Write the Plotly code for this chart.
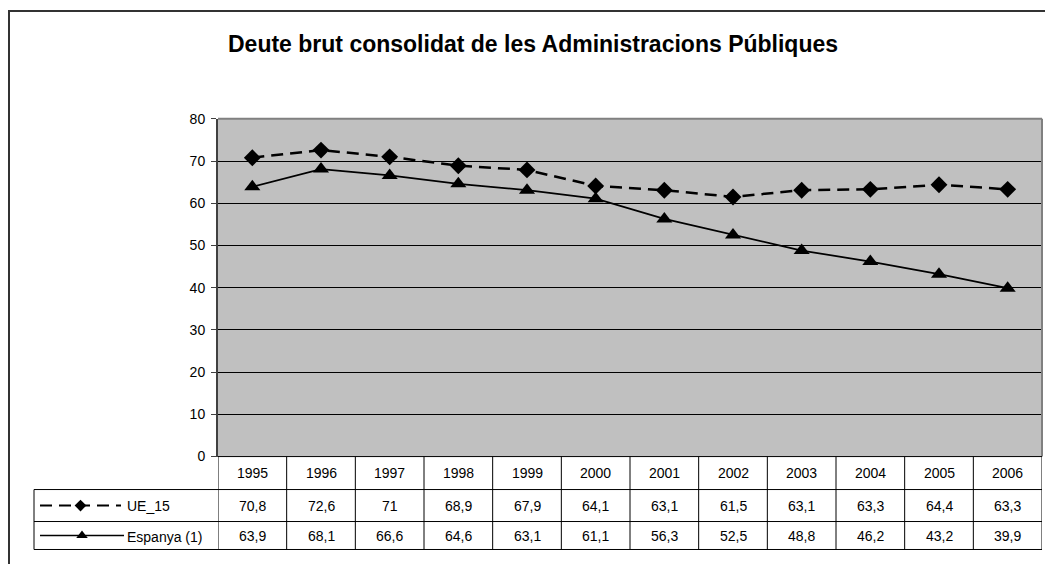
import plotly.graph_objects as go

years = ["1995", "1996", "1997", "1998", "1999", "2000", "2001", "2002", "2003", "2004", "2005", "2006"]
ue15 = [70.8, 72.6, 71, 68.9, 67.9, 64.1, 63.1, 61.5, 63.1, 63.3, 64.4, 63.3]
espanya = [63.9, 68.1, 66.6, 64.6, 63.1, 61.1, 56.3, 52.5, 48.8, 46.2, 43.2, 39.9]
series_names = ["UE_15", "Espanya (1)"]
title_text = "Deute brut consolidat de les Administracions Públiques"
y_ticks = [0, 10, 20, 30, 40, 50, 60, 70, 80]

# page is 1053x572; body keeps its default 8px margin, so the figure is 1037x556
OFF = 8
W, H = 1053 - 2 * OFF, 572 - 2 * OFF
# vertical correction observed in the capture
VS, VB = 0.972, 7.3
def px(x): return (x - OFF) / W
def py(y):
    yi = (y - VB) / VS
    return 1 - (yi - OFF) / H

PL, PR, PT, PB = 218, 1042, 118, 456
ROW_YEAR_B, ROW1_B, ROW2_B = 489, 521, 549
LEG_L = 34

def fmt(v):
    return ("%g" % v).replace(".", ",")

fig = go.Figure()

UE_DASH = "12px,7px"
fig.add_trace(go.Scatter(
    x=years, y=ue15, mode="lines+markers", name=series_names[0],
    line=dict(color="black", width=2.5, dash=UE_DASH),
    marker=dict(symbol="diamond", size=13, color="black"),
    xaxis="x", yaxis="y", showlegend=False))
fig.add_trace(go.Scatter(
    x=years, y=espanya, mode="lines+markers", name=series_names[1],
    line=dict(color="black", width=1.75),
    marker=dict(symbol="triangle-up", size=14, color="black"),
    xaxis="x", yaxis="y", showlegend=False))

# legend samples in the table's legend column
fig.add_trace(go.Scatter(
    x=[0, 0.5, 1], y=[0.5, 0.5, 0.5], mode="lines", xaxis="x2", yaxis="y2",
    line=dict(color="black", width=2, dash=UE_DASH), showlegend=False, hoverinfo="skip"))
fig.add_trace(go.Scatter(
    x=[0.5], y=[0.5], mode="markers", xaxis="x2", yaxis="y2",
    marker=dict(symbol="diamond", size=9, color="black"), showlegend=False, hoverinfo="skip"))
fig.add_trace(go.Scatter(
    x=[0, 0.5, 1], y=[0.5, 0.5, 0.5], mode="lines", xaxis="x3", yaxis="y3",
    line=dict(color="black", width=1.5), showlegend=False, hoverinfo="skip"))
fig.add_trace(go.Scatter(
    x=[0.5], y=[0.5], mode="markers", xaxis="x3", yaxis="y3",
    marker=dict(symbol="triangle-up", size=10, color="black"), showlegend=False, hoverinfo="skip"))

shapes = []
# gray plot area background (below gridlines)
shapes.append(dict(type="rect", xref="x domain", yref="y domain", x0=0, x1=1, y0=0, y1=1,
                   fillcolor="#C0C0C0", line=dict(width=0), layer="below"))
# outer frame
shapes.append(dict(type="rect", xref="paper", yref="paper",
                   x0=px(9), x1=1.05, y0=-0.05, y1=py(10),
                   line=dict(color="#333333", width=2)))
# plot area border (top/right gray)
shapes.append(dict(type="line", xref="paper", yref="paper", x0=px(PL), x1=px(PR), y0=py(PT), y1=py(PT),
                   line=dict(color="#808080", width=2)))
shapes.append(dict(type="line", xref="paper", yref="paper", x0=px(PR), x1=px(PR), y0=py(PT), y1=py(PB),
                   line=dict(color="#808080", width=2)))
# table: vertical column lines
for i in range(len(years) + 1):
    shapes.append(dict(type="line", xref="x", yref="paper", x0=i - 0.5, x1=i - 0.5,
                       y0=py(ROW2_B), y1=py(PB), line=dict(color="black", width=1)))
# table horizontal lines
for yy in [ROW_YEAR_B, ROW1_B, ROW2_B]:
    shapes.append(dict(type="line", xref="paper", yref="paper", x0=px(LEG_L), x1=px(PR),
                       y0=py(yy), y1=py(yy), line=dict(color="black", width=1)))
shapes.append(dict(type="line", xref="paper", yref="paper", x0=px(LEG_L), x1=px(LEG_L),
                   y0=py(ROW2_B), y1=py(ROW_YEAR_B), line=dict(color="black", width=1)))
shapes.append(dict(type="line", xref="paper", yref="paper", x0=px(PL), x1=px(PR),
                   y0=py(PB), y1=py(PB), line=dict(color="black", width=1)))

annotations = []
font = dict(family="Liberation Sans, Arial, sans-serif", size=14, color="black")
ymid_year = (PB + ROW_YEAR_B) / 2
ymid_r1 = (ROW_YEAR_B + ROW1_B) / 2
ymid_r2 = (ROW1_B + ROW2_B) / 2
for i, yr in enumerate(years):
    annotations.append(dict(x=i, y=py(ymid_year), xref="x", yref="paper", text=yr,
                            showarrow=False, font=font, xanchor="center", yanchor="middle"))
    annotations.append(dict(x=i, y=py(ymid_r1), xref="x", yref="paper", text=fmt(ue15[i]),
                            showarrow=False, font=font, xanchor="center", yanchor="middle"))
    annotations.append(dict(x=i, y=py(ymid_r2), xref="x", yref="paper", text=fmt(espanya[i]),
                            showarrow=False, font=font, xanchor="center", yanchor="middle"))
annotations.append(dict(x=px(125), y=py(ymid_r1), xref="paper", yref="paper", text=series_names[0],
                        showarrow=False, xanchor="left", yanchor="middle", font=font))
annotations.append(dict(x=px(125), y=py(ymid_r2 + 1), xref="paper", yref="paper", text=series_names[1],
                        showarrow=False, xanchor="left", yanchor="middle",
                        font=dict(family="Liberation Sans Narrow, Arial Narrow, sans-serif", size=14, color="black")))
annotations.append(dict(x=px(533), y=py(43), xref="paper", yref="paper", text="<b>" + title_text + "</b>",
                        showarrow=False, xanchor="center", yanchor="middle",
                        font=dict(family="Liberation Sans, Arial, sans-serif", size=23, color="black")))

fig.update_layout(
    width=W, height=H,
    margin=dict(l=0, r=0, t=0, b=0),
    paper_bgcolor="white",
    plot_bgcolor="rgba(0,0,0,0)",
    xaxis=dict(domain=[px(PL), px(PR)], type="category", range=[-0.5, len(years) - 0.5],
               showticklabels=False, showgrid=False, zeroline=False, showline=False, ticks="",
               fixedrange=True),
    yaxis=dict(domain=[py(PB), py(PT)], range=[0, 80], tickvals=y_ticks,
               showgrid=True, gridcolor="black", gridwidth=1, zeroline=False,
               showline=True, linecolor="#404040", linewidth=2, ticks="outside", ticklen=5,
               tickcolor="#404040", tickfont=dict(family="Liberation Sans, Arial, sans-serif", size=14, color="black"),
               ticklabelstandoff=3, fixedrange=True),
    xaxis2=dict(domain=[px(40), px(121)], range=[0, 1], visible=False, fixedrange=True),
    yaxis2=dict(domain=[py(ROW1_B - 4), py(ROW_YEAR_B + 4)], range=[0, 1], visible=False, fixedrange=True),
    xaxis3=dict(domain=[px(40), px(124)], range=[0, 1], visible=False, fixedrange=True),
    yaxis3=dict(domain=[py(ROW2_B - 4), py(ROW1_B + 4)], range=[0, 1], visible=False, fixedrange=True),
    shapes=shapes,
    annotations=annotations,
)

fig.write_html("out.html", config={"displayModeBar": False})
